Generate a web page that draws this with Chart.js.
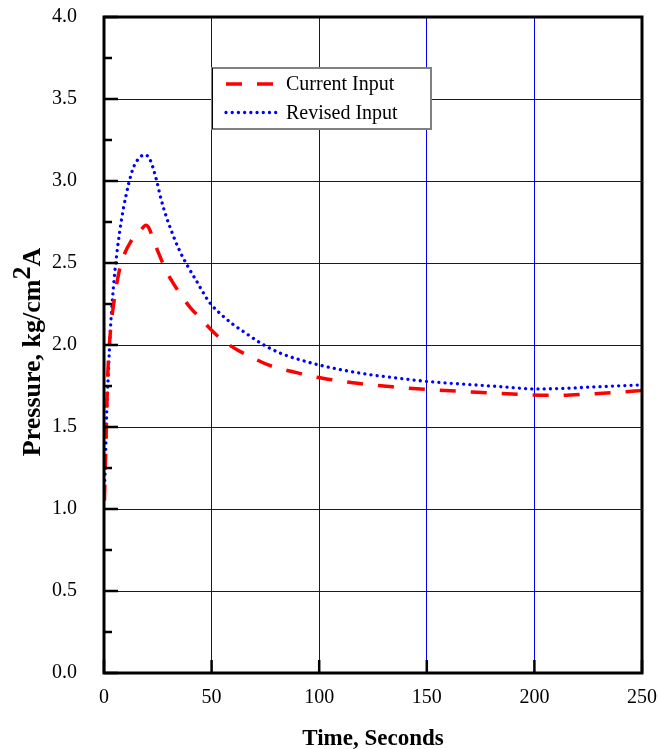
<!DOCTYPE html>
<html><head><meta charset="utf-8">
<script src="https://cdn.jsdelivr.net/npm/chart.js@4.4.1/dist/chart.umd.min.js"></script>
<style>html,body{margin:0;padding:0;background:#fff;}#wrap{width:658px;height:749px;}</style>
</head><body><div id="wrap"><canvas id="c" width="658" height="749"></canvas></div>
<script>
const seriesNames = ['Current Input', 'Revised Input'];
const currentTime = [0.2, 1, 1.7, 2.5, 3.5, 4.6, 6, 7.6, 10, 12, 14, 17, 19.5, 21, 23, 26, 29, 32, 36, 40, 45, 50, 55, 62, 68, 76, 82, 90, 96, 105, 112, 120, 126, 134, 141, 151, 166, 181, 196, 205, 212, 225, 240, 250];
const currentPressure = [1.05, 1.45, 1.80, 2.00, 2.15, 2.26, 2.38, 2.48, 2.57, 2.62, 2.66, 2.70, 2.73, 2.71, 2.64, 2.54, 2.45, 2.38, 2.30, 2.23, 2.16, 2.09, 2.03, 1.97, 1.93, 1.88, 1.855, 1.83, 1.81, 1.79, 1.776, 1.763, 1.754, 1.745, 1.737, 1.728, 1.717, 1.706, 1.697, 1.693, 1.693, 1.701, 1.713, 1.722];
const revisedTime = [0, 0.5, 1.25, 2, 3, 4.3, 5.9, 7.4, 9, 11.6, 13.6, 16.7, 19, 21, 22.8, 24.5, 26.5, 29, 31.5, 34.6, 38.5, 43, 49, 55, 60, 65, 73, 82, 91, 100, 108, 122, 135, 150, 165, 180, 190, 200, 212, 228, 250];
const revisedPressure = [1.10, 1.22, 1.58, 1.82, 2.10, 2.34, 2.55, 2.70, 2.83, 2.99, 3.08, 3.145, 3.16, 3.14, 3.08, 3.00, 2.89, 2.78, 2.69, 2.59, 2.49, 2.39, 2.26, 2.18, 2.125, 2.08, 2.01, 1.95, 1.91, 1.878, 1.855, 1.822, 1.80, 1.778, 1.763, 1.75, 1.74, 1.732, 1.735, 1.745, 1.757];
const xTicks = [0, 50, 100, 150, 200, 250];
const yTicks = [0, 0.5, 1.0, 1.5, 2.0, 2.5, 3.0, 3.5, 4.0];
const yMinorTicks = [0.25, 0.75, 1.25, 1.75, 2.25, 2.75, 3.25, 3.75];
const xTitle = 'Time, Seconds';
const yTitleParts = ['Pressure, kg/cm', '2', 'A'];

const SERIF = '"Liberation Serif", "Times New Roman", serif';
const GRID = 'rgb(0,0,235)';

const toPts = (xs, ys) => xs.map((x, i) => ({x: x, y: ys[i]}));

const framePlugin = {
  id: 'frame',
  afterDatasetsDraw(chart) {
    const {ctx, chartArea: a, scales: {x, y}} = chart;
    ctx.save();
    ctx.strokeStyle = '#000';
    ctx.lineWidth = 2.5;
    ctx.beginPath();
    yTicks.forEach(v => { const py = y.getPixelForValue(v); ctx.moveTo(a.left, py); ctx.lineTo(a.left + 14, py); });
    yMinorTicks.forEach(v => { const py = y.getPixelForValue(v); ctx.moveTo(a.left, py); ctx.lineTo(a.left + 8, py); });
    xTicks.forEach(v => { const px = x.getPixelForValue(v); ctx.moveTo(px, a.bottom); ctx.lineTo(px, a.bottom - 13); });
    ctx.stroke();
    ctx.lineWidth = 3;
    ctx.strokeRect(a.left, a.top, a.right - a.left, a.bottom - a.top);

    // legend
    const lx = a.left + 108, ly = a.top + 51, lw = 219, lh = 61;
    ctx.fillStyle = '#fff';
    ctx.fillRect(lx, ly, lw, lh);
    ctx.strokeStyle = '#808080';
    ctx.lineWidth = 2;
    ctx.strokeRect(lx, ly, lw, lh);
    ctx.strokeStyle = '#000';
    ctx.lineWidth = 1;
    ctx.beginPath(); ctx.moveTo(lx + 0.5, ly); ctx.lineTo(lx + 0.5, ly + lh); ctx.stroke();
    const rows = [ly + 16, ly + 44.5];
    chart.data.datasets.forEach((ds, i) => {
      ctx.save();
      ctx.strokeStyle = ds.borderColor;
      ctx.lineWidth = ds.borderWidth;
      ctx.lineCap = ds.borderCapStyle || 'butt';
      ctx.setLineDash(ds.borderDash || []);
      ctx.beginPath();
      ctx.moveTo(lx + 14, rows[i]);
      ctx.lineTo(lx + (i === 0 ? 62 : 67), rows[i]);
      ctx.stroke();
      ctx.restore();
      ctx.fillStyle = '#000';
      ctx.font = '20px ' + SERIF;
      ctx.textBaseline = 'middle';
      ctx.textAlign = 'left';
      ctx.fillText(ds.label, lx + 74, rows[i] + 1);
    });

    // y title
    ctx.save();
    ctx.fillStyle = '#000';
    ctx.font = 'bold 26px ' + SERIF;
    const w0 = ctx.measureText(yTitleParts[0]).width;
    const w1 = ctx.measureText(yTitleParts[1]).width;
    const w2 = ctx.measureText(yTitleParts[2]).width;
    const total = w0 + w1 + w2;
    ctx.translate(40, 352);
    ctx.rotate(-Math.PI / 2);
    ctx.textBaseline = 'alphabetic';
    ctx.textAlign = 'left';
    let sx = -total / 2;
    ctx.fillText(yTitleParts[0], sx, 0); sx += w0;
    ctx.fillText(yTitleParts[1], sx, -10); sx += w1;
    ctx.fillText(yTitleParts[2], sx, 0);
    ctx.restore();
    ctx.restore();
  }
};

new Chart(document.getElementById('c'), {
  type: 'line',
  data: {
    datasets: [
      {label: seriesNames[0], data: toPts(currentTime, currentPressure), borderColor: '#ff0000', borderWidth: 3.5, borderDash: [16, 15], borderCapStyle: 'butt', pointRadius: 0, fill: false, cubicInterpolationMode: 'monotone'},
      {label: seriesNames[1], data: toPts(revisedTime, revisedPressure), borderColor: '#0000ff', borderWidth: 3.3, borderDash: [0.01, 6.2], borderCapStyle: 'round', pointRadius: 0, fill: false, cubicInterpolationMode: 'monotone'}
    ]
  },
  options: {
    responsive: false,
    animation: false,
    devicePixelRatio: 1,
    layout: {padding: {top: 17, right: 16, left: 0, bottom: 0}},
    plugins: {legend: {display: false}, tooltip: {enabled: false}},
    scales: {
      x: {
        type: 'linear', min: 0, max: 250,
        afterFit: s => { s.height = 76; s.paddingLeft = 0; s.paddingRight = 0; },
        afterBuildTicks: s => { s.ticks = xTicks.map(v => ({value: v})); },
        ticks: {font: {family: SERIF, size: 20}, color: '#000', padding: 13, maxRotation: 0},
        grid: {color: GRID, lineWidth: c => (c.tick && (c.tick.value === 0 || c.tick.value === 250)) ? 0 : 1, drawTicks: false},
        border: {display: false},
        title: {display: true, text: xTitle, font: {family: SERIF, size: 23, weight: 'bold'}, color: '#000', padding: {top: 0, bottom: -4}}
      },
      y: {
        min: 0, max: 4,
        afterFit: s => { s.width = 104; s.paddingTop = 0; s.paddingBottom = 0; },
        afterBuildTicks: s => { s.ticks = yTicks.map(v => ({value: v})); },
        ticks: {font: {family: SERIF, size: 20}, color: '#000', padding: 27, callback: v => Number(v).toFixed(1)},
        grid: {color: GRID, lineWidth: c => (c.tick && (c.tick.value === 0 || c.tick.value === 4)) ? 0 : 1, drawTicks: false},
        border: {display: false}
      }
    }
  },
  plugins: [framePlugin]
});
</script></body></html>
